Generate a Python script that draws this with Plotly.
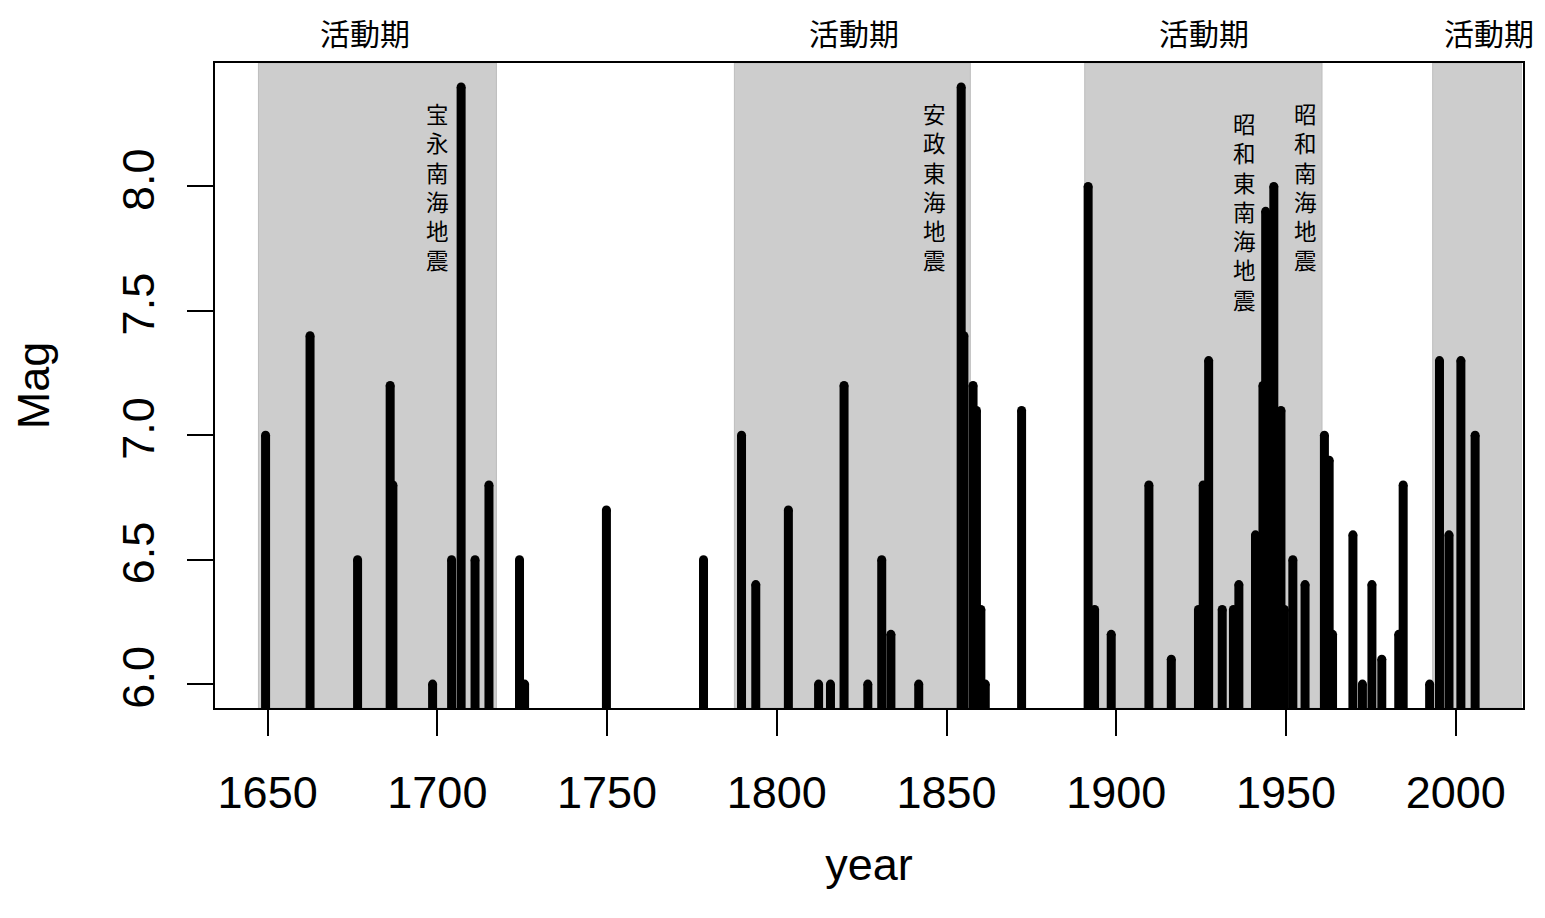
import plotly.graph_objects as go

# ---- data ----
years = [1649.4, 1662.5, 1676.5, 1686.1, 1686.9, 1698.6, 1704.2, 1707.0, 1711.1, 1715.2,
         1724.2, 1725.7, 1749.8, 1778.4, 1789.6, 1793.8, 1803.4, 1812.3, 1815.8, 1819.8,
         1826.8, 1830.9, 1833.6, 1841.8, 1854.3, 1855.1, 1857.8, 1858.8, 1860.1, 1861.4,
         1872.1, 1891.7, 1893.6, 1898.5, 1909.6, 1916.2, 1924.2, 1925.6, 1927.2, 1931.2,
         1934.5, 1936.1, 1941.0, 1942.0, 1943.2, 1944.0, 1946.4, 1948.5, 1949.5, 1952.0,
         1955.6, 1961.3, 1962.7, 1963.7, 1969.7, 1972.5, 1975.3, 1978.2, 1983.2, 1984.5,
         1992.3, 1995.2, 1998.0, 2001.5, 2005.7]
mags = [7.0, 7.4, 6.5, 7.2, 6.8, 6.0, 6.5, 8.4, 6.5, 6.8,
        6.5, 6.0, 6.7, 6.5, 7.0, 6.4, 6.7, 6.0, 6.0, 7.2,
        6.0, 6.5, 6.2, 6.0, 8.4, 7.4, 7.2, 7.1, 6.3, 6.0,
        7.1, 8.0, 6.3, 6.2, 6.8, 6.1, 6.3, 6.8, 7.3, 6.3,
        6.3, 6.4, 6.6, 6.2, 7.2, 7.9, 8.0, 7.1, 6.3, 6.5,
        6.4, 7.0, 6.9, 6.2, 6.6, 6.0, 6.4, 6.1, 6.2, 6.8,
        6.0, 7.3, 6.6, 7.3, 7.0]

period_start = [1647.3, 1787.5, 1890.7, 1993.2]
period_end = [1717.4, 1857.0, 1960.6, 2019.3]
period_label = "活動期"
period_label_x = [1678.8, 1822.8, 1925.7, 2009.8]

quake_names = ["宝永南海地震", "安政東海地震", "昭和東南海地震", "昭和南海地震"]
quake_x = [1700.0, 1846.5, 1937.8, 1955.6]
quake_y = [8.0, 8.0, 7.9, 8.0]

x_ticks = [1650, 1700, 1750, 1800, 1850, 1900, 1950, 2000]
y_ticks = [6.0, 6.5, 7.0, 7.5, 8.0]

# ---- figure ----
xs, ys = [], []
for yr, m in zip(years, mags):
    xs += [yr, yr, None]
    ys += [5.0, m, None]

fig = go.Figure()
fig.add_trace(go.Scatter(x=xs, y=ys, mode="lines",
                         line=dict(color="black", width=9),
                         hoverinfo="skip", showlegend=False))
fig.add_trace(go.Scatter(x=years, y=mags, mode="markers",
                         marker=dict(color="black", size=9, line=dict(width=0)),
                         showlegend=False))

for x0, x1 in zip(period_start, period_end):
    fig.add_shape(type="rect", xref="x", yref="paper", x0=x0, x1=x1, y0=0, y1=1,
                  fillcolor="#cdcdcd", line=dict(color="#bdbdbd", width=1), layer="below")

for lx in period_label_x:
    fig.add_annotation(x=lx, y=1.084, xref="x", yref="paper", text=period_label,
                       showarrow=False, yanchor="top", xanchor="center", borderpad=0,
                       font=dict(family="Noto Sans CJK JP", size=30, color="black"))

for name, qx, qy in zip(quake_names, quake_x, quake_y):
    fig.add_annotation(x=qx, y=qy, xref="x", yref="y", text="<br>".join(list(name)),
                       showarrow=False, yanchor="middle", xanchor="center", align="center",
                       font=dict(family="Noto Sans CJK JP", size=22.5, color="black"))

font_main = "Liberation Sans, Arial, sans-serif"
fig.update_layout(
    width=1529, height=902,
    margin=dict(l=207, r=14, t=55, b=202),
    paper_bgcolor="white", plot_bgcolor="white",
    font=dict(family=font_main, color="black", size=45),
    xaxis=dict(range=[1634.5, 2019.8], tickvals=x_ticks, ticktext=[str(v) for v in x_ticks],
               ticks="outside", ticklen=26, tickwidth=2, tickcolor="black",
               showline=True, linecolor="black", linewidth=2, mirror=True,
               showgrid=False, zeroline=False, ticklabelstandoff=18,
               tickfont=dict(size=45, family=font_main),
               title=dict(text="year", font=dict(size=45, family=font_main), standoff=31)),
    yaxis=dict(range=[5.904, 8.496], tickvals=y_ticks, ticktext=[f"{v:.1f}" for v in y_ticks],
               ticks="outside", ticklen=26, tickwidth=2, tickcolor="black", tickangle=-90,
               showline=True, linecolor="black", linewidth=2, mirror=True,
               showgrid=False, zeroline=False, ticklabelstandoff=15,
               tickfont=dict(size=45, family=font_main),
               title=dict(text="Mag", font=dict(size=45, family=font_main), standoff=50)),
)

fig.write_html("out.html")
